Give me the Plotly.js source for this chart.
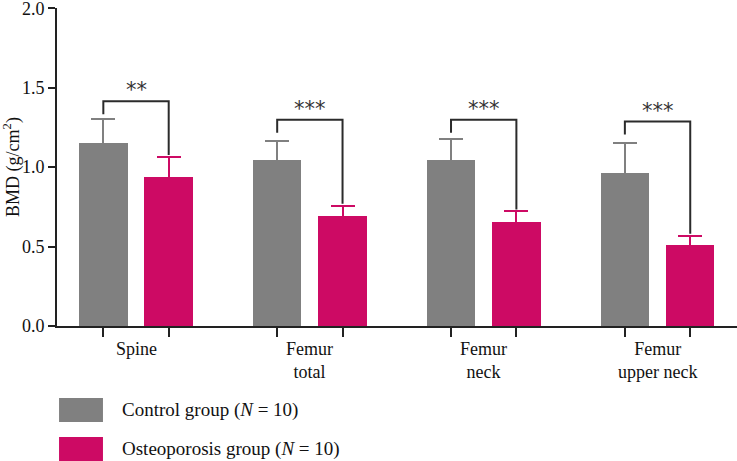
<!DOCTYPE html>
<html>
<head>
<meta charset="utf-8">
<script src="https://cdn.plot.ly/plotly-3.0.1.min.js"></script>
<style>html,body{margin:0;padding:0;background:#fff;}#chart{width:737px;height:461px;}</style>
</head>
<body>
<div id="chart"></div>
<script>
// ---- data ----
const categories = ['Spine', 'Femur<br>total', 'Femur<br>neck', 'Femur<br>upper neck'];
const seriesNames = ['Control group (<i>N</i> = 10)', 'Osteoporosis group (<i>N</i> = 10)'];
const controlMean = [1.149, 1.042, 1.042, 0.962];
const controlErr = [0.153, 0.125, 0.136, 0.187];
const osteoMean = [0.935, 0.692, 0.656, 0.509];
const osteoErr = [0.130, 0.065, 0.065, 0.059];
const significance = ['**', '***', '***', '***'];
const bracketLevel = [1.415, 1.298, 1.298, 1.287];
const yTicks = [0, 0.5, 1.0, 1.5, 2.0];

// ---- styling / layout ----
const greyCol = '#808080', magCol = '#CD0A64';
const off = 0.188, bw = 0.279;
const idx = categories.map((_, i) => i);
const xC = idx.map(i => i - off), xO = idx.map(i => i + off);
const fontFam = '"Liberation Serif", "DejaVu Serif", serif';

// symmetric error bars: the lower half lies hidden inside the bar (same colour)
const traces = [
  {type: 'bar', x: xC, y: controlMean, width: bw, name: seriesNames[0],
   marker: {color: greyCol, line: {width: 0}},
   error_y: {type: 'data', symmetric: true, array: controlErr,
             color: greyCol, thickness: 2, width: 12}, showlegend: false, hoverinfo: 'none'},
  {type: 'bar', x: xO, y: osteoMean, width: bw, name: seriesNames[1],
   marker: {color: magCol, line: {width: 0}},
   error_y: {type: 'data', symmetric: true, array: osteoErr,
             color: magCol, thickness: 2, width: 12}, showlegend: false, hoverinfo: 'none'}
];

const shapes = [];
const annotations = [];
idx.forEach(i => {
  const yb = bracketLevel[i];
  const leftEnd = yb - 0.082;
  const rightEnd = osteoMean[i] + osteoErr[i] + 0.012;
  shapes.push({type: 'path', xref: 'x', yref: 'y',
    path: `M${xC[i]},${leftEnd} L${xC[i]},${yb} L${xO[i]},${yb} L${xO[i]},${rightEnd}`,
    line: {color: '#2b2b2b', width: 2}});
  annotations.push({x: i, y: yb, xref: 'x', yref: 'y', text: significance[i],
    showarrow: false, yanchor: 'bottom', yshift: -3,
    font: {family: '"DejaVu Sans", sans-serif', size: 21, color: '#333'}});
  annotations.push({x: i, y: -0.035, xref: 'x', yref: 'paper', text: categories[i],
    showarrow: false, yanchor: 'top', align: 'center',
    font: {family: fontFam, size: 18, color: '#111'}});
});

// manual legend
const legendItems = [
  {color: greyCol, y0: -0.2264, y1: -0.3019},
  {color: magCol, y0: -0.349, y1: -0.4245}
];
legendItems.forEach((it, k) => {
  shapes.push({type: 'rect', xref: 'paper', yref: 'paper', x0: 0.003, x1: 0.0676,
    y0: it.y0, y1: it.y1, fillcolor: it.color, line: {width: 0}});
  annotations.push({xref: 'paper', yref: 'paper', x: 0.0926, y: (it.y0 + it.y1) / 2,
    text: seriesNames[k], showarrow: false, xanchor: 'left', yanchor: 'middle',
    font: {family: fontFam, size: 19, color: '#111'}});
});

const layout = {
  width: 737, height: 461,
  margin: {l: 57, r: 0, t: 8, b: 135, pad: 0},
  paper_bgcolor: '#fff', plot_bgcolor: '#fff',
  font: {family: fontFam, size: 16, color: '#111'},
  bargap: 0, showlegend: false,
  xaxis: {range: [-0.4545, 3.457], tickvals: [...xC, ...xO], ticktext: [...xC, ...xO].map(() => ''),
    showticklabels: false, ticks: 'outside', ticklen: 9, tickwidth: 2, tickcolor: '#222',
    showline: true, linecolor: '#222', linewidth: 2, showgrid: false, zeroline: false, fixedrange: true},
  yaxis: {range: [0, 2.002], tickmode: 'array', tickvals: yTicks, ticktext: yTicks.map(v => v.toFixed(1)),
    ticks: 'outside', ticklen: 7, ticklabeloverflow: 'allow',
    tickwidth: 2, tickcolor: '#222', showline: true, linecolor: '#222', linewidth: 2,
    showgrid: false, zeroline: false, tickfont: {size: 18, family: fontFam, color: '#111'},
    title: {text: 'BMD (g/cm<sup>2</sup>)', font: {size: 18, family: fontFam, color: '#111'}, standoff: 4},
    fixedrange: true},
  shapes: shapes,
  annotations: annotations
};

Plotly.newPlot('chart', traces, layout, {displayModeBar: false, staticPlot: true});
</script>
</body>
</html>
